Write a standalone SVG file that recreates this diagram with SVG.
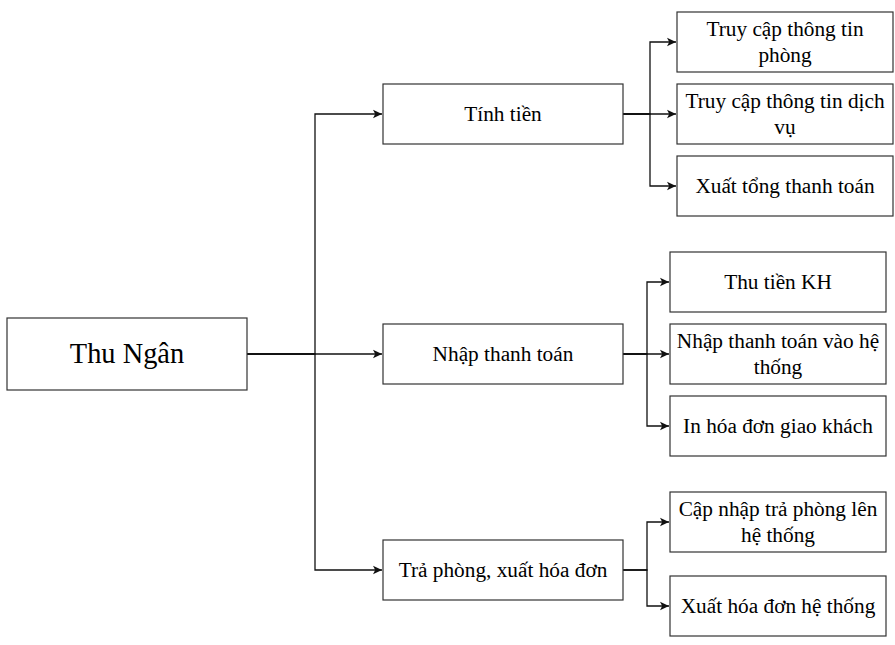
<svg xmlns="http://www.w3.org/2000/svg" width="895" height="645" viewBox="0 0 895 645">
<style>
.box{fill:#fff;stroke:#333;stroke-width:1.2}
.t{font-family:"Liberation Serif","Times New Roman",serif;font-size:21.3px;fill:#000;text-anchor:middle}
.root{font-size:28.4px}
.c{fill:none;stroke:#111;stroke-width:1.3}
</style>
<defs>
<marker id="arr" markerWidth="10" markerHeight="10" refX="9" refY="5" orient="auto" markerUnits="userSpaceOnUse">
<path d="M0,0.8 L9,5 L0,9.2 L2.2,5 Z" fill="#111"/>
</marker>
</defs>
<rect width="895" height="645" fill="#fff"/>
<g id="connectors">
<path class="c" d="M247,354 H315 V114 H382" marker-end="url(#arr)"/>
<path class="c" d="M247,354 H382" marker-end="url(#arr)"/>
<path class="c" d="M247,354 H315 V570 H382" marker-end="url(#arr)"/>
<path class="c" d="M623,114 H650 V42 H676" marker-end="url(#arr)"/>
<path class="c" d="M623,114 H676" marker-end="url(#arr)"/>
<path class="c" d="M623,114 H650 V186 H676" marker-end="url(#arr)"/>
<path class="c" d="M623,354 H647 V282 H669" marker-end="url(#arr)"/>
<path class="c" d="M623,354 H669" marker-end="url(#arr)"/>
<path class="c" d="M623,354 H647 V426 H669" marker-end="url(#arr)"/>
<path class="c" d="M623,570 H647 V522 H669" marker-end="url(#arr)"/>
<path class="c" d="M623,570 H647 V606 H669" marker-end="url(#arr)"/>
</g>
<g id="thu-ngan"><rect class="box" x="7" y="318" width="240" height="72"/><text class="t root" x="127" y="363">Thu Ngân</text></g>
<g id="tinh-tien"><rect class="box" x="383" y="84" width="240" height="60"/><text class="t" x="503" y="121">Tính tiền</text></g>
<g id="nhap-thanh-toan"><rect class="box" x="383" y="324" width="240" height="60"/><text class="t" x="503" y="361">Nhập thanh toán</text></g>
<g id="tra-phong"><rect class="box" x="383" y="540" width="240" height="60"/><text class="t" x="503" y="577">Trả phòng, xuất hóa đơn</text></g>
<g id="truy-cap-phong"><rect class="box" x="677" y="12" width="216" height="60"/><text class="t" x="785" y="36">Truy cập thông tin</text><text class="t" x="785" y="62">phòng</text></g>
<g id="truy-cap-dich-vu"><rect class="box" x="677" y="84" width="216" height="60"/><text class="t" x="785" y="108">Truy cập thông tin dịch</text><text class="t" x="785" y="134">vụ</text></g>
<g id="xuat-tong"><rect class="box" x="677" y="156" width="216" height="60"/><text class="t" x="785" y="193">Xuất tổng thanh toán</text></g>
<g id="thu-tien-kh"><rect class="box" x="670" y="252" width="216" height="60"/><text class="t" x="778" y="289">Thu tiền KH</text></g>
<g id="nhap-he-thong"><rect class="box" x="670" y="324" width="216" height="60"/><text class="t" x="778" y="348">Nhập thanh toán vào hệ</text><text class="t" x="778" y="374">thống</text></g>
<g id="in-hoa-don"><rect class="box" x="670" y="396" width="216" height="60"/><text class="t" x="778" y="433">In hóa đơn giao khách</text></g>
<g id="cap-nhap"><rect class="box" x="670" y="492" width="216" height="60"/><text class="t" x="778" y="516">Cập nhập trả phòng lên</text><text class="t" x="778" y="542">hệ thống</text></g>
<g id="xuat-hoa-don"><rect class="box" x="670" y="576" width="216" height="60"/><text class="t" x="778" y="613">Xuất hóa đơn hệ thống</text></g>
</svg>
